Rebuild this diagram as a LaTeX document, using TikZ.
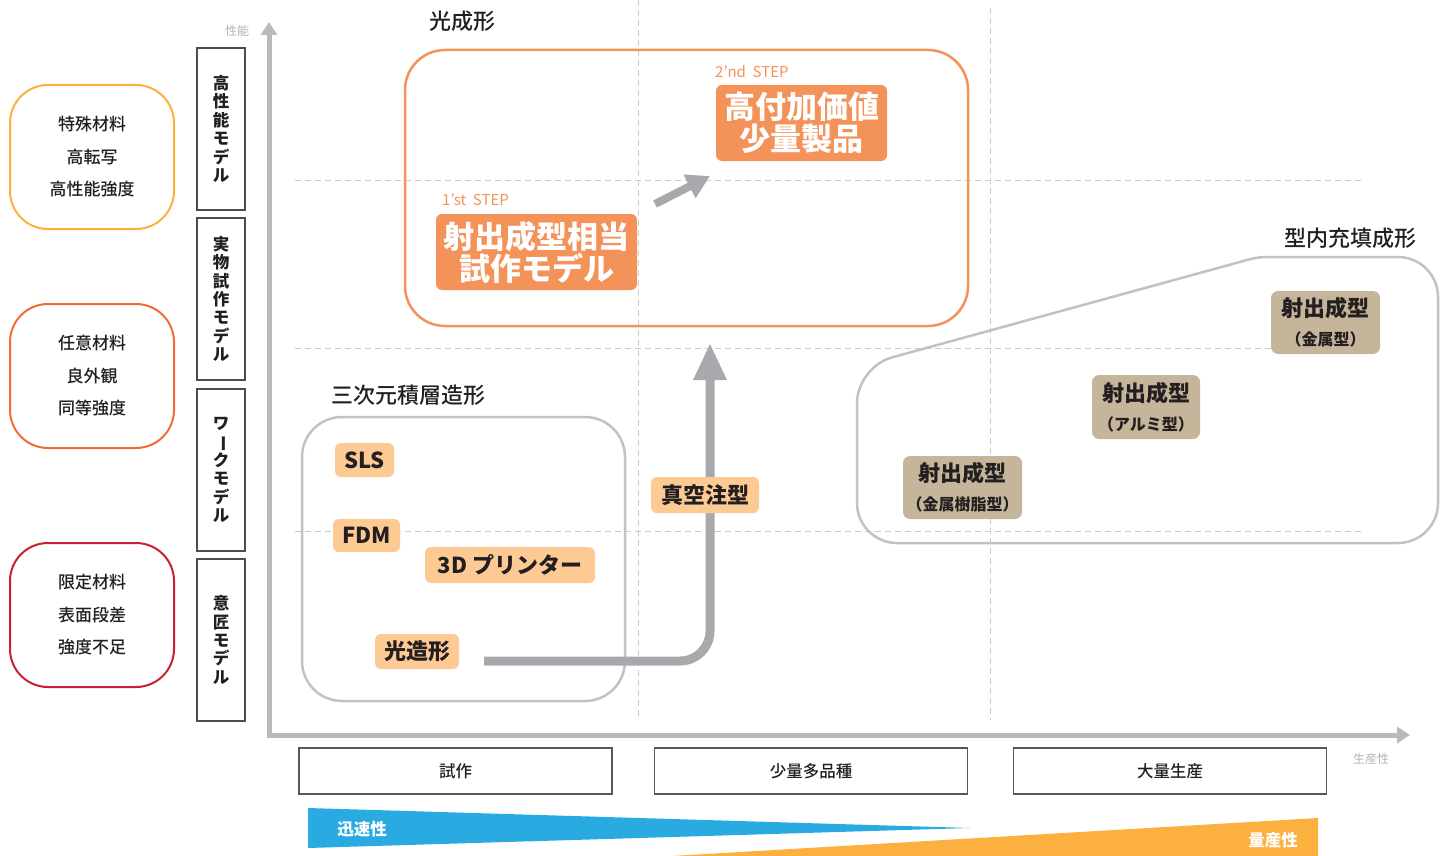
\documentclass[tikz,border=0pt]{standalone}
\usepackage{fontspec}
\setmainfont{Noto Sans CJK JP}
\newfontface\jpmed{Noto Sans CJK JP Medium}
\usepackage{xcolor}
\usetikzlibrary{arrows.meta,positioning}

\definecolor{ink}{HTML}{231F20}
\definecolor{stepor}{HTML}{F39259}
\definecolor{lightor}{HTML}{FDCA94}
\definecolor{tanfill}{HTML}{C5B59A}
\definecolor{linegray}{HTML}{C2C2C6}
\definecolor{axisgray}{HTML}{B9BABE}
\definecolor{arrgray}{HTML}{A8A9AD}
\definecolor{gridgray}{HTML}{CCCCCC}
\definecolor{softgray}{HTML}{B3B3B3}
\definecolor{yelor}{HTML}{FBB040}
\definecolor{redor}{HTML}{F26A36}
\definecolor{deepred}{HTML}{C8202F}
\definecolor{speedblue}{HTML}{29ABE2}

\newcommand{\vbar}{\rotatebox[origin=c]{-90}{ー}}

\begin{document}
\begin{tikzpicture}[x=1pt,y=-1pt,
    featbox/.style={draw,line width=2,rounded corners=38,minimum width=164,
        minimum height=144,align=center,text=ink,
        font=\jpmed\fontsize{17}{32.5}\selectfont},
    modelbox/.style={draw=ink!80,line width=1.2,minimum width=48,
        minimum height=162,inner sep=0,align=center,text=ink,
        font=\bfseries\fontsize{16.5}{18.4}\selectfont},
    stepbox/.style={fill=stepor,rounded corners=6,inner sep=0,text=white,
        align=center,font=\bfseries\fontsize{31}{32}\selectfont},
    steptag/.style={text=stepor,anchor=west,inner sep=0,
        font=\fontsize{15}{15}\selectfont},
    methodbox/.style={fill=lightor,rounded corners=6,inner sep=0,text=ink,
        font=\bfseries\fontsize{22}{22}\selectfont},
    moldbox/.style={fill=tanfill,rounded corners=7,inner sep=0,text=ink,
        align=center,font=\bfseries\fontsize{22}{29}\selectfont},
    scalebox/.style={draw=ink!75,line width=1.2,minimum width=313,
        minimum height=46,inner sep=0,text=ink,
        font=\jpmed\fontsize{16.5}{16.5}\selectfont},
    region/.style={line width=2.5,rounded corners=40},
    title/.style={text=ink,inner sep=0,font=\jpmed\fontsize{22}{22}\selectfont},
    axislabel/.style={text=softgray,inner sep=0,font=\fontsize{12}{12}\selectfont},
    fatarrow/.style={arrgray,line width=9,-{Triangle[width=31,length=37]}}
  ]

    \useasboundingbox (0,0) rectangle (1445,856);

    % Grid
    \begin{scope}[gridgray,line width=1,dash pattern=on 6pt off 4pt]
        \draw (638,0) -- (638,720);
        \draw (990,8) -- (990,720);
        \foreach \gy in {180,348,531}
            \draw (295,\gy) -- (1365,\gy);
    \end{scope}

    % Axes
    \draw[axisgray,line width=5,{Triangle[width=16,length=13]}-{Triangle[width=16,length=13]}]
        (269,22) -- (269,735) -- (1410,735);
    \node[axislabel] (perf) at (237,31) {性能};
    \node[axislabel] (prod) at (1371,759) {生産性};

    % Material boxes
    \node[featbox,draw=yelor] (feat1) at (92,157) {特殊材料\\高転写\\高性能強度};
    \node[featbox,draw=redor] (feat2) at (92,376) {任意材料\\良外観\\同等強度};
    \node[featbox,draw=deepred] (feat3) at (92,615) {限定材料\\表面段差\\強度不足};

    % Model boxes
    \node[modelbox] (model1) at (221,129) {高\\性\\能\\モ\\デ\\ル};
    \node[modelbox] (model2) at (221,299) {実\\物\\試\\作\\モ\\デ\\ル};
    \node[modelbox] (model3) at (221,470) {ワ\\\vbar\\ク\\モ\\デ\\ル};
    \node[modelbox] (model4) at (221,640) {意\\匠\\モ\\デ\\ル};

    % Photo forming
    \draw[region,stepor] (405,50) rectangle (968,326);
    \node[title] (photo) at (462,21) {光成形};
    \node[stepbox,minimum width=201,minimum height=76] (step1) at (536.5,252)
        {射出成型相当\\試作モデル};
    \node[stepbox,minimum width=171,minimum height=76] (step2) at (801.5,123)
        {高付加価値\\少量製品};
    \node[steptag] (tag1) at (442,200) {1’st\ \ STEP};
    \node[steptag] (tag2) at (715,72) {2’nd\ \ STEP};
    \coordinate (nextA) at (655,204);
    \coordinate (nextB) at (710,176);
    \draw[arrgray,line width=8,-{Triangle[width=25,length=23]}] (nextA) -- (nextB);

    % Additive forming
    \draw[region,linegray] (302,417) rectangle (625,701);
    \node[title] (additive) at (408,395) {三次元積層造形};
    \node[methodbox,minimum width=59,minimum height=34] (sls) at (364.5,460) {SLS};
    \node[methodbox,minimum width=67,minimum height=33] (fdm) at (366.5,535.5) {FDM};
    \node[methodbox,minimum width=170,minimum height=36] (printer) at (510,565) {3D プリンター};
    \node[methodbox,minimum width=84,minimum height=35] (sla) at (417,651.5) {光造形};

    % Lift arrow
    \coordinate (liftstart) at (484,661);
    \coordinate (liftcorner) at (710,661);
    \coordinate (lifttop) at (710,343);
    \draw[fatarrow,rounded corners=30] (liftstart) -- (liftcorner) -- (lifttop);
    \node[methodbox,minimum width=108,minimum height=36] (vacuum) at (705,495) {真空注型};

    % Mold forming
    \draw[linegray,line width=2.5,rounded corners=36]
        (857,450) -- (857,367) [rounded corners=8] -- (1258,257)
        [rounded corners=40] -- (1438,257) -- (1438,543)
        -- (857,543) -- cycle;
    \node[title] (mold) at (1350,238) {型内充填成形};
    \node[moldbox,minimum width=109,minimum height=63] (metal) at (1325.5,322.5)
        {射出成型\\{\fontsize{16}{16}\selectfont（金属型）}};
    \node[moldbox,minimum width=108,minimum height=64] (alu) at (1146,407)
        {射出成型\\{\fontsize{16}{16}\selectfont（アルミ型）}};
    \node[moldbox,minimum width=119,minimum height=63] (resin) at (962.5,487.5)
        {射出成型\\{\fontsize{16}{16}\selectfont（金属樹脂型）}};

    % Scale boxes
    \node[scalebox] (proto) at (455.5,771) {試作};
    \node[scalebox] (small) at (811,771) {少量多品種};
    \node[scalebox] (mass) at (1170,771) {大量生産};

    % Wedges
    \fill[speedblue] (308,808) -- (970,828) -- (308,848) -- cycle;
    \fill[yelor] (672,856) -- (1318,818) -- (1318,856) -- cycle;
    \node[text=white,font=\bfseries\fontsize{16.5}{16.5}\selectfont] (speed) at (362,829) {迅速性};
    \node[text=white,font=\bfseries\fontsize{16.5}{16.5}\selectfont] (volume) at (1273,840) {量産性};

\end{tikzpicture}
\end{document}
